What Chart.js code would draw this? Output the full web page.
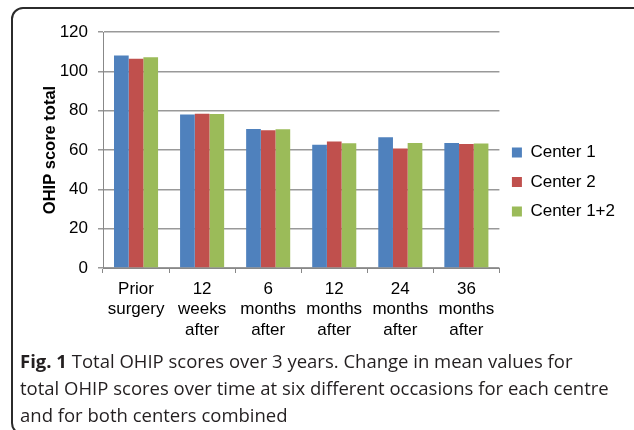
<!DOCTYPE html>
<html>
<head>
<meta charset="utf-8">
<script src="https://cdn.jsdelivr.net/npm/chart.js@4/dist/chart.umd.min.js"></script>
<style>
  html, body { margin: 0; padding: 0; background: #fff; }
  body { width: 634px; height: 430px; position: relative; overflow: hidden; }
  #frame { position: absolute; left: 11px; top: 7px; width: 660px; height: 428px;
           border: 2px solid #2b2b2b; border-radius: 12px; box-sizing: border-box; }
  #wrap { position: absolute; left: 0; top: 0; width: 634px; height: 362px; }
  #caption { position: absolute; left: 20px; top: 347px; width: 610px; white-space: nowrap;
             font-family: "Open Sans", sans-serif; font-size: 18.5px; line-height: 27px; color: #231f20; }
  #caption span { display: block; }
  #caption b { font-weight: 700; }
</style>
</head>
<body>
<div id="frame"></div>
<div id="wrap"><canvas id="c"></canvas></div>
<div id="caption"><span><b>Fig. 1</b> Total OHIP scores over 3 years. Change in mean values for</span><span>total OHIP scores over time at six different occasions for each centre</span><span>and for both centers combined</span></div>
<script>
const categories = [["Prior", "surgery"], ["12", "weeks", "after"], ["6", "months", "after"], ["12", "months", "after"], ["24", "months", "after"], ["36", "months", "after"]];
const center1 = [108.0, 78.0, 70.7, 62.7, 66.5, 63.6];
const center2 = [106.4, 78.4, 70.0, 64.3, 60.7, 63.1];
const center12 = [107.1, 78.3, 70.5, 63.4, 63.6, 63.3];
const seriesNames = ["Center 1", "Center 2", "Center 1+2"];
const yTicks = [0, 20, 40, 60, 80, 100, 120];

const colors = ["#4F81BD", "#C0504D", "#9BBB59"];
const font = "'Liberation Sans', Arial, sans-serif";

new Chart(document.getElementById("c"), {
  type: "bar",
  data: {
    labels: categories,
    datasets: [center1, center2, center12].map((d, i) => ({
      label: seriesNames[i],
      data: d,
      backgroundColor: colors[i],
      borderWidth: 0,
      categoryPercentage: 0.667,
      barPercentage: 1.0
    }))
  },
  options: {
    responsive: true,
    maintainAspectRatio: false,
    animation: false,
    layout: { padding: { left: 37, right: 9, top: 24, bottom: 22 } },
    plugins: {
      tooltip: { enabled: false },
      title: { display: true, text: " ", font: { size: 8, lineHeight: 1 }, padding: 0 },
      legend: {
        position: "right",
        labels: {
          font: { family: font, size: 17 },
          color: "#000",
          boxWidth: 10,
          boxHeight: 10,
          padding: 12.5
        }
      }
    },
    scales: {
      x: {
        afterFit: (axis) => { axis.height = 72; },
        grid: { offset: true, drawOnChartArea: false, color: "#888", tickLength: 5, lineWidth: 1 },
        border: { color: "#888", width: 1 },
        ticks: { font: { family: font, size: 17, lineHeight: 1.2 }, color: "#000", maxRotation: 0, autoSkip: false, padding: 6 }
      },
      y: {
        min: 0, max: 120,
        afterFit: (axis) => { axis.width = 66; },
        afterBuildTicks: (axis) => { axis.ticks = yTicks.map(v => ({ value: v })); },
        grid: { color: "#999", lineWidth: 1.5, tickLength: 5 },
        border: { color: "#888", width: 1 },
        ticks: { font: { family: font, size: 17 }, color: "#000", padding: 10 },
        title: { display: true, text: "OHIP score total", font: { family: font, size: 16.5, weight: "bold" }, color: "#000", padding: 4 }
      }
    }
  }
});
</script>
</body>
</html>
